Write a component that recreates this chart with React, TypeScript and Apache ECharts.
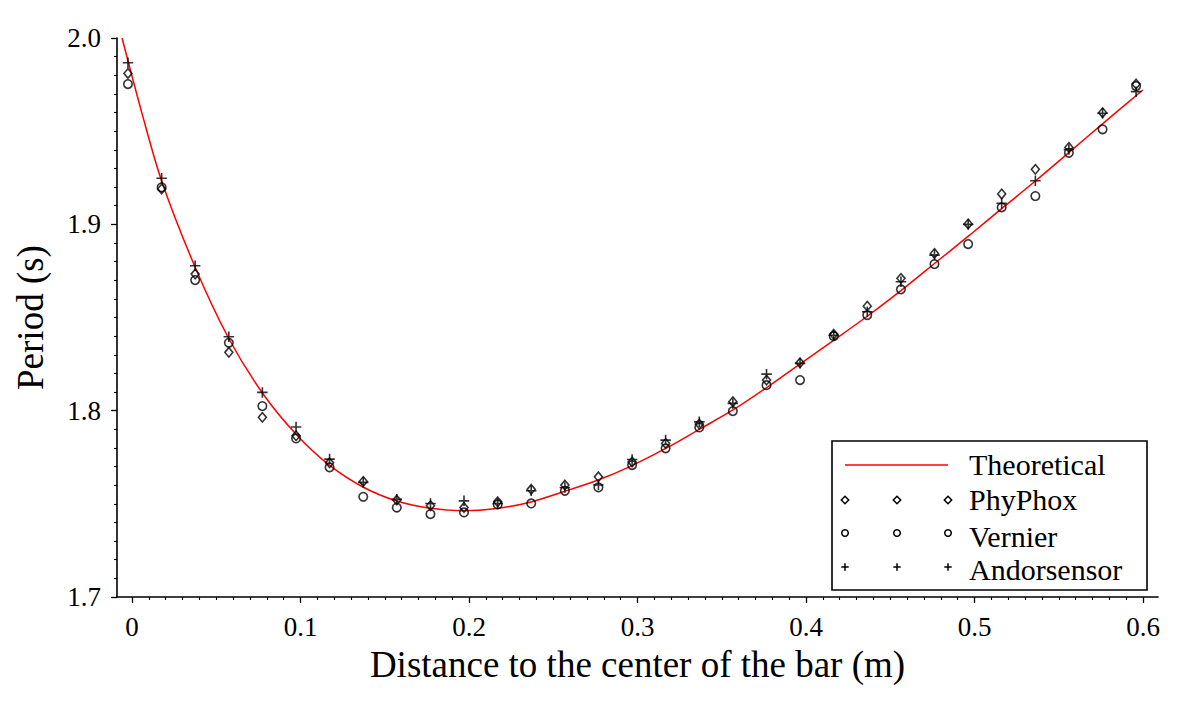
import React, { useEffect, useRef } from "react";
import * as echarts from "echarts";

// Distance to the centre of the bar (m) for each measurement
const distances = [
  -0.0025, 0.0175, 0.0374, 0.0574, 0.0773, 0.0973, 0.1172, 0.1372, 0.1571, 0.1771,
  0.197, 0.217, 0.2369, 0.2569, 0.2768, 0.2968, 0.3167, 0.3367, 0.3566, 0.3766,
  0.3965, 0.4165, 0.4364, 0.4564, 0.4763, 0.4963, 0.5162, 0.5362, 0.5561, 0.5761, 0.596,
];

const phyphox = [
  1.981, 1.919, 1.8733, 1.8313, 1.7964, 1.7865, 1.772, 1.762, 1.752, 1.749,
  1.748, 1.7511, 1.7578, 1.7601, 1.7645, 1.7725, 1.7824, 1.7928, 1.8048, 1.8164,
  1.8257, 1.841, 1.8561, 1.871, 1.8844, 1.9002, 1.9163, 1.9295, 1.9413, 1.9599, 1.9753,
];

const vernier = [
  1.9753, 1.9199, 1.8701, 1.8364, 1.8025, 1.7851, 1.7696, 1.7538, 1.748, 1.7445,
  1.7454, 1.7497, 1.7502, 1.757, 1.7588, 1.7708, 1.7798, 1.791, 1.7998, 1.8137,
  1.8164, 1.84, 1.8513, 1.8651, 1.8787, 1.8894, 1.9091, 1.9152, 1.9384, 1.951, 1.9742,
];

const andorsensor = [
  1.9867, 1.9247, 1.8778, 1.8397, 1.8098, 1.7912, 1.774, 1.7615, 1.7524, 1.7502,
  1.7516, 1.7502, 1.757, 1.7588, 1.7601, 1.7738, 1.7842, 1.794, 1.8039, 1.8196,
  1.8254, 1.8405, 1.8531, 1.8692, 1.8835, 1.9, 1.9113, 1.9234, 1.9402, 1.9596, 1.9712,
];

// Theoretical curve
const theoryX = [
  -0.006, 0.006, 0.0176, 0.0374, 0.0572, 0.0773, 0.0977, 0.1171, 0.1373, 0.1571,
  0.1769, 0.1966, 0.2164, 0.2362, 0.256, 0.2758, 0.2955, 0.3173, 0.3371, 0.3569,
  0.3767, 0.3964, 0.4162, 0.436, 0.4558, 0.4776, 0.4973, 0.5171, 0.5369, 0.5567,
  0.5764, 0.6,
];
const theoryT = [
  2.0, 1.959, 1.923, 1.877, 1.839, 1.8095, 1.787, 1.7708, 1.7589, 1.7515,
  1.7476, 1.7463, 1.7475, 1.7509, 1.7565, 1.7625, 1.770, 1.780, 1.7902, 1.8005,
  1.8124, 1.825, 1.8376, 1.8504, 1.864, 1.8799, 1.8943, 1.9091, 1.9238, 1.939,
  1.9542, 1.9721,
];

const legendNames = ["Theoretical", "PhyPhox", "Vernier", "Andorsensor"];

const FONT = "'Liberation Serif', 'Times New Roman', serif";
const PLUS = "path://M5,0L5,10M0,5L10,5";

function pairs(xs: number[], ys: number[]) {
  return xs.map((x, i) => [x, ys[i]]);
}

function App() {
  const ref = useRef<HTMLDivElement>(null);

  useEffect(() => {
    if (!ref.current) return;
    const chart = echarts.init(ref.current, null, { renderer: "svg" });

    const markerStyle = {
      color: "rgba(0,0,0,0)",
      borderColor: "#000",
      borderWidth: 1.6,
    };

    // legend graphics
    const lx = [845, 897, 948];
    const rowY = [465, 500, 533, 567];
    const textY = [464.5, 499, 536, 569];
    const legend: any[] = [
      {
        type: "rect",
        shape: { x: 832, y: 441, width: 315, height: 149 },
        style: { fill: "#fff", stroke: "#000", lineWidth: 1.6 },
      },
      {
        type: "line",
        shape: { x1: 845, y1: rowY[0], x2: 948, y2: rowY[0] },
        style: { stroke: "#ff0000", lineWidth: 1.5 },
      },
    ];
    lx.forEach((x) => {
      const d = 3.7;
      legend.push({
        type: "polygon",
        shape: { points: [[x, rowY[1] - d], [x + d, rowY[1]], [x, rowY[1] + d], [x - d, rowY[1]]] },
        style: { fill: "none", stroke: "#000", lineWidth: 1.5 },
      });
      legend.push({
        type: "circle",
        shape: { cx: x, cy: rowY[2], r: 3.3 },
        style: { fill: "none", stroke: "#000", lineWidth: 1.5 },
      });
      legend.push({
        type: "line",
        shape: { x1: x - 3.7, y1: rowY[3], x2: x + 3.7, y2: rowY[3] },
        style: { stroke: "#000", lineWidth: 1.5 },
      });
      legend.push({
        type: "line",
        shape: { x1: x, y1: rowY[3] - 3.7, x2: x, y2: rowY[3] + 3.7 },
        style: { stroke: "#000", lineWidth: 1.5 },
      });
    });
    legendNames.forEach((name, i) => {
      legend.push({
        type: "text",
        x: 969,
        y: textY[i],
        style: {
          text: name,
          fill: "#000",
          font: `30px ${FONT}`,
          textAlign: "left",
          textVerticalAlign: "middle",
        },
      });
    });

    const option: any = {
      animation: false,
      backgroundColor: "#fff",
      grid: [
        { left: 117, right: 34, top: 38, bottom: 109 },
        { left: 132, right: 49, top: 38, bottom: 109 },
      ],
      xAxis: [
        {
          type: "value",
          gridIndex: 0,
          min: -0.009,
          max: 0.609,
          axisLine: { show: true, onZero: false, lineStyle: { color: "#000", width: 1.6 } },
          axisTick: { show: false },
          axisLabel: { show: false },
          splitLine: { show: false },
          name: "Distance to the center of the bar (m)",
          nameLocation: "middle",
          nameGap: 49,
          nameTextStyle: { fontFamily: FONT, fontSize: 37, color: "#000" },
        },
        {
          type: "value",
          gridIndex: 1,
          min: 0,
          max: 0.6,
          interval: 0.1,
          axisLine: { show: false },
          axisTick: { show: true, inside: false, length: 6, lineStyle: { color: "#000", width: 1.3 } },
          minorTick: { show: true, splitNumber: 10, length: 3, lineStyle: { color: "#000", width: 1.1 } },
          axisLabel: {
            margin: 16,
            fontFamily: FONT,
            fontSize: 27,
            color: "#000",
            formatter: (v: number) => String(parseFloat(v.toFixed(1))),
          },
          splitLine: { show: false },
          minorSplitLine: { show: false },
        },
      ],
      yAxis: [
        {
          type: "value",
          gridIndex: 0,
          min: 1.7,
          max: 2.0,
          interval: 0.1,
          axisLine: { show: true, onZero: false, lineStyle: { color: "#000", width: 1.6 } },
          axisTick: { show: true, inside: false, length: 6, lineStyle: { color: "#000", width: 1.3 } },
          minorTick: { show: true, splitNumber: 10, length: 3, lineStyle: { color: "#000", width: 1.1 } },
          axisLabel: {
            margin: 16,
            fontFamily: FONT,
            fontSize: 27,
            color: "#000",
            formatter: (v: number) => v.toFixed(1),
          },
          splitLine: { show: false },
          minorSplitLine: { show: false },
          name: "Period (s)",
          nameLocation: "middle",
          nameGap: 68,
          nameRotate: 90,
          nameTextStyle: { fontFamily: FONT, fontSize: 37, color: "#000" },
        },
        { type: "value", gridIndex: 1, min: 1.7, max: 2.0, show: false },
      ],
      series: [
        {
          name: "Theoretical",
          type: "line",
          xAxisIndex: 0,
          yAxisIndex: 0,
          data: pairs(theoryX, theoryT),
          smooth: 0.3,
          symbol: "none",
          lineStyle: { color: "#ff0000", width: 1.5 },
          silent: true,
          z: 2,
        },
        {
          name: "PhyPhox",
          type: "scatter",
          xAxisIndex: 0,
          yAxisIndex: 0,
          data: pairs(distances, phyphox),
          symbol: "diamond",
          symbolSize: [8, 9.5],
          itemStyle: markerStyle,
          silent: true,
          z: 3,
        },
        {
          name: "Vernier",
          type: "scatter",
          xAxisIndex: 0,
          yAxisIndex: 0,
          data: pairs(distances, vernier),
          symbol: "circle",
          symbolSize: 8.5,
          itemStyle: markerStyle,
          silent: true,
          z: 3,
        },
        {
          name: "Andorsensor",
          type: "scatter",
          xAxisIndex: 0,
          yAxisIndex: 0,
          data: pairs(distances, andorsensor),
          symbol: PLUS,
          symbolSize: 10.5,
          itemStyle: markerStyle,
          silent: true,
          z: 3,
        },
      ],
      graphic: { elements: legend.map((e) => ({ ...e, z: 100 })) },
    };

    chart.setOption(option);
    return () => chart.dispose();
  }, []);

  return (
    <div
      ref={ref}
      style={{
        position: "fixed",
        left: 0,
        top: 0,
        width: 1192,
        height: 706,
        background: "#fff",
      }}
    />
  );
}

export default App;
